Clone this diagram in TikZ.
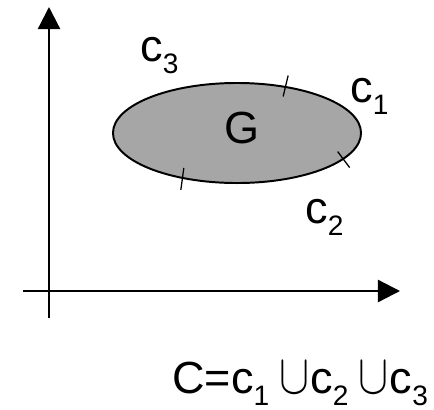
\documentclass[tikz,border=0pt]{standalone}
\usepackage{fontspec}
\setmainfont{Liberation Sans}
\usepackage{graphicx}
\usepackage{tikz}
\usetikzlibrary{shapes.geometric, arrows.meta, positioning, calc}
\definecolor{regionGray}{RGB}{166,166,166}
\newcommand{\lowsub}[1]{\raisebox{-0.27em}{\fontsize{20}{22}\selectfont #1}}
\newcommand{\unionsym}{\hspace{7pt}{\fontsize{10}{12}\selectfont\scalebox{3.2}[4.0]{$\cup$}}\hspace{1pt}}

\begin{document}
\begin{tikzpicture}[
      x=0.025cm, y=-0.025cm,
      >={Triangle[length=0.55cm, width=0.55cm]},
      axis/.style={->, line width=1.6pt},
      region/.style={draw, ellipse, line width=1.4pt, fill=regionGray,
                     minimum width=6.2cm, minimum height=2.5cm, inner sep=0pt},
      lbl/.style={anchor=base west, inner sep=0pt, font=\fontsize{32}{38}\selectfont},
      tick/.style={line width=0.9pt}
    ]
      \useasboundingbox (0,0) rectangle (434,409);
      \coordinate (ybot)   at (49,318);
      \coordinate (ytop)   at (49,7);
      \coordinate (xleft)  at (23,291);
      \coordinate (xright) at (400,291);
      \draw[axis] (ybot) -- (ytop);
      \draw[axis] (xleft) -- (xright);
      \node[region] (reg) at (237,133) {};
      \node[lbl, anchor=center] (g) at (242,128) {G};
      \draw[tick] ([shift={(2.5,-10.5)}]reg.44) -- ([shift={(-2.5,10.5)}]reg.44);
      \draw[tick] ([shift={(-6,-8)}]reg.-14.5) -- ([shift={(6,8)}]reg.-14.5);
      \draw[tick] ([shift={(1.5,-11)}]reg.220) -- ([shift={(-1.5,11)}]reg.220);
      \node[lbl] (c3) at (140,61)  {c\lowsub{3}};
      \node[lbl] (c1) at (350,102) {c\lowsub{1}};
      \node[lbl] (c2) at (305,223) {c\lowsub{2}};
      \node[lbl] (union) at (172,393) {C=c\lowsub{1}\unionsym c\lowsub{2}\unionsym c\lowsub{3}};
    \end{tikzpicture}
\end{document}
